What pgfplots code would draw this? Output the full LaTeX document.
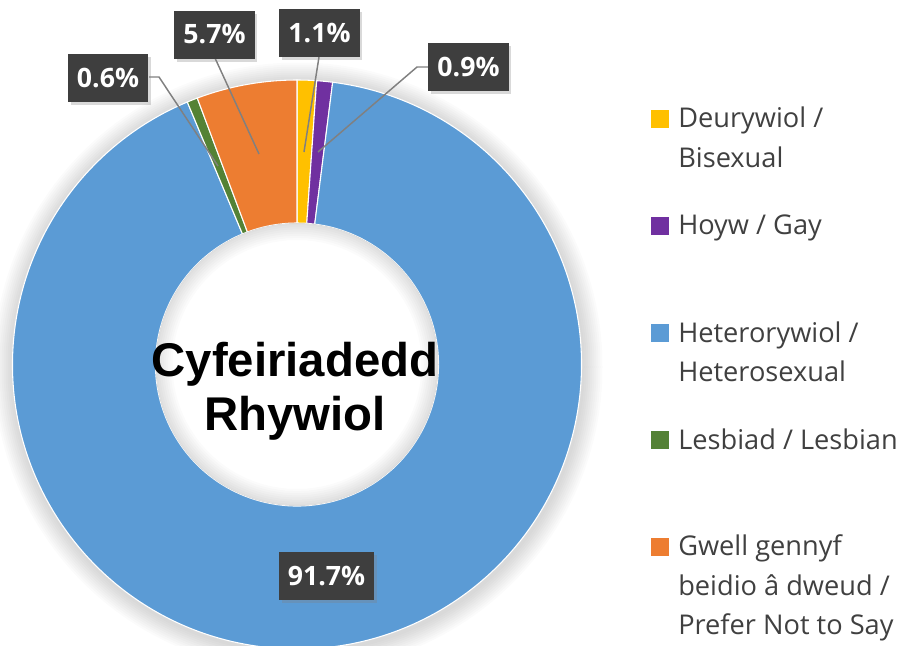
\documentclass[border=0pt]{standalone}
\usepackage{pgfplots}
\pgfplotsset{compat=1.18}
\usepackage{fontspec}
\setmainfont{Open Sans}
\newfontfamily\titlefont{Liberation Sans}
\usetikzlibrary{shadows}
\definecolor{cYel}{HTML}{FFC000}
\definecolor{cPur}{HTML}{7030A0}
\definecolor{cBlu}{HTML}{5B9BD5}
\definecolor{cGrn}{HTML}{548235}
\definecolor{cOra}{HTML}{ED7D31}
\definecolor{boxgray}{HTML}{3E3E3E}
\definecolor{txtgray}{HTML}{404040}
\definecolor{leadgray}{HTML}{808080}
\newcommand{\Ro}{213.375pt}
\newcommand{\Ri}{106.125pt}
% slice: start (%), value (%), colour
\newcommand{\slice}[3]{%
  \fill[#3, draw=white, line width=0.8pt]
    ([shift={({90-3.6*#1}:\Ro)}]axis cs:297,364.5)
    arc[start angle={90-3.6*#1}, end angle={90-3.6*(#1+#2)}, radius=\Ro]
    -- ([shift={({90-3.6*(#1+#2)}:\Ri)}]axis cs:297,364.5)
    arc[start angle={90-3.6*(#1+#2)}, end angle={90-3.6*#1}, radius=\Ri]
    -- cycle;}
\tikzset{
  lbl/.style={fill=boxgray, text=white, inner xsep=6.75pt, inner ysep=0pt,
    minimum height=36pt, font=\bfseries\fontsize{20}{24}\selectfont,
    drop shadow={shadow xshift=2pt, shadow yshift=-2.5pt, opacity=0.3}},
  leader/.style={draw=leadgray, line width=1.1pt},
  leg/.style={anchor=base west, inner sep=0pt, text=txtgray,
    font=\fontsize{20.4}{24}\selectfont}
}
\begin{document}
\begin{tikzpicture}
\begin{axis}[
  hide axis, scale only axis, width=678pt, height=484.5pt,
  xmin=0, xmax=904, ymin=0, ymax=646, y dir=reverse, clip=true]
% outer soft shadow (ring outside the donut only)
\pgfplotsinvokeforeach{1,...,10}{
  \fill[black, opacity=0.016, even odd rule]
     (axis cs:298,367) circle[radius={\Ro+1.5pt*#1}]
     (axis cs:297,364.5) circle[radius={\Ro-1pt}];
}
% donut slices: start, value
\slice{0}{1.1}{cYel}
\slice{1.1}{0.9}{cPur}
\slice{2.0}{91.7}{cBlu}
\slice{93.7}{0.6}{cGrn}
\slice{94.3}{5.7}{cOra}
% inner soft shadow of the hole
\pgfplotsinvokeforeach{1,...,8}{
  \fill[black, opacity=0.016, even odd rule] (axis cs:297,364.5) circle[radius=\Ri]
     (axis cs:297,364.5) circle[radius={\Ri-1.6pt*#1}];
}
% centre title
\node[anchor=base, inner sep=0pt, font=\titlefont\bfseries\fontsize{35.5}{40}\selectfont]
  at (axis cs:295,376) {Cyfeiriadedd};
\node[anchor=base, inner sep=0pt, font=\titlefont\bfseries\fontsize{35.5}{40}\selectfont]
  at (axis cs:295,430) {Rhywiol};
% leader lines
\draw[leader] (axis cs:215,58) -- (axis cs:259,154);
\draw[leader] (axis cs:319,57) -- (axis cs:304,152);
\draw[leader] (axis cs:149,77) -- (axis cs:159,77) -- (axis cs:218,166);
\draw[leader] (axis cs:428,67) -- (axis cs:417,67) -- (axis cs:318,152);
% data labels
\node[lbl] at (axis cs:214.5,34.5) {5.7\%};
\node[lbl] at (axis cs:319.5,33) {1.1\%};
\node[lbl] at (axis cs:108,78) {0.6\%};
\node[lbl] at (axis cs:468.5,67) {0.9\%};
\node[lbl] at (axis cs:326.5,576) {91.7\%};
% legend
\fill[cYel] (axis cs:651,110) rectangle (axis cs:669,128);
\node[leg] at (axis cs:678,127) {Deurywiol /};
\node[leg] at (axis cs:678,167) {Bisexual};
\fill[cPur] (axis cs:651,217) rectangle (axis cs:669,235);
\node[leg] at (axis cs:678,234) {Hoyw / Gay};
\fill[cBlu] (axis cs:651,324) rectangle (axis cs:669,342);
\node[leg] at (axis cs:678,342) {Heterorywiol /};
\node[leg] at (axis cs:678,381) {Heterosexual};
\fill[cGrn] (axis cs:651,431) rectangle (axis cs:669,449);
\node[leg] at (axis cs:678,449) {Lesbiad / Lesbian};
\fill[cOra] (axis cs:651,538) rectangle (axis cs:669,556);
\node[leg] at (axis cs:678,555) {Gwell gennyf};
\node[leg] at (axis cs:678,595) {beidio â dweud /};
\node[leg] at (axis cs:678,634) {Prefer Not to Say};
\end{axis}
\pgfresetboundingbox
\path (0,0) rectangle (678pt,484.5pt);
\end{tikzpicture}
\end{document}
